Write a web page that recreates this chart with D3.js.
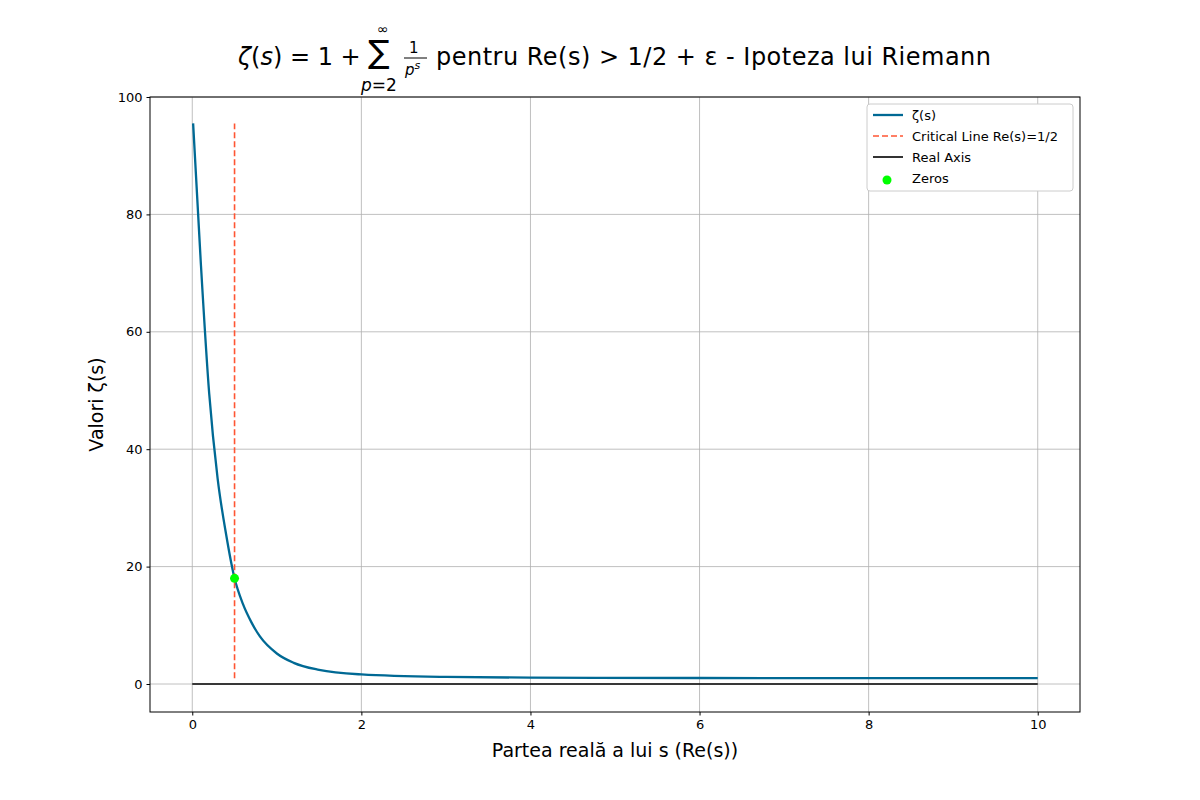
<!DOCTYPE html>
<html>
<head>
<script src="https://cdnjs.cloudflare.com/ajax/libs/d3/7.8.5/d3.min.js"></script>
<style>body{margin:0;background:#fff}text{font-family:"DejaVu Sans",sans-serif}</style>
</head>
<body>
<svg id="chart" width="1200" height="800"></svg>
<script>
// values
const sVals    = [0.01, 0.1, 0.2, 0.3, 0.4, 0.5, 0.6, 0.7, 0.8, 1.0, 1.2, 1.5, 2, 3, 4, 6, 8, 10];
const zetaVals = [95.5, 72, 49.5, 35, 25.5, 18, 13.6, 10.5, 8.1, 5.2, 3.6, 2.4, 1.63, 1.2, 1.08, 1.02, 1.004, 1.001];
const critX = 0.5, critY = [1, 95.5];
const axisX = [0, 10];
const zeros = [{s: 0.5, v: 18}];
const xTicks = [0, 2, 4, 6, 8, 10];
const yTicks = [0, 20, 40, 60, 80, 100];

const svg = d3.select('#chart');
const L = 150, R = 1080, T = 97, B = 712;
const x = d3.scaleLinear().domain([-0.5, 10.5]).range([L, R]);
const y = d3.scaleLinear().domain([-4.77, 100]).range([B, T]);

// grid
svg.append('g').selectAll('line').data(xTicks).enter().append('line')
  .attr('x1', d => x(d)).attr('x2', d => x(d)).attr('y1', T).attr('y2', B)
  .attr('stroke', '#b0b0b0').attr('stroke-width', 0.8);
svg.append('g').selectAll('line').data(yTicks).enter().append('line')
  .attr('y1', d => y(d)).attr('y2', d => y(d)).attr('x1', L).attr('x2', R)
  .attr('stroke', '#b0b0b0').attr('stroke-width', 0.8);

// axes
const gx = svg.append('g').attr('transform', `translate(0,${B})`)
  .call(d3.axisBottom(x).tickValues(xTicks).tickSize(3.5).tickPadding(4));
const gy = svg.append('g').attr('transform', `translate(${L},0)`)
  .call(d3.axisLeft(y).tickValues(yTicks).tickSize(3.5).tickPadding(4));
[gx, gy].forEach(g => {
  g.select('.domain').remove();
  g.selectAll('text').attr('font-size', 13).attr('fill', '#000').style('font-family', 'DejaVu Sans');
  g.selectAll('line').attr('stroke', '#000');
});
svg.append('rect').attr('x', L).attr('y', T).attr('width', R - L).attr('height', B - T)
  .attr('fill', 'none').attr('stroke', '#000').attr('stroke-width', 1);

// real axis
svg.append('line').attr('x1', x(axisX[0])).attr('x2', x(axisX[1])).attr('y1', y(0)).attr('y2', y(0))
  .attr('stroke', '#000').attr('stroke-width', 1.6);

// zeta curve
const line = d3.line().curve(d3.curveMonotoneX).x((d, i) => x(sVals[i])).y(d => y(d));
svg.append('path').attr('d', line(zetaVals)).attr('fill', 'none')
  .attr('stroke', '#006994').attr('stroke-width', 2.3);

// critical line
svg.append('line').attr('x1', x(critX)).attr('x2', x(critX)).attr('y1', y(critY[0])).attr('y2', y(critY[1]))
  .attr('stroke', '#ff5533').attr('stroke-width', 1.6).attr('stroke-dasharray', '6,3');

// zeros
svg.append('g').selectAll('circle').data(zeros).enter().append('circle')
  .attr('cx', d => x(d.s)).attr('cy', d => y(d.v)).attr('r', 4.5).attr('fill', '#00ff00');

// labels
svg.append('text').attr('x', (L + R) / 2).attr('y', 757).attr('text-anchor', 'middle')
  .attr('font-size', 19).text('Partea reală a lui s (Re(s))');
svg.append('text').attr('transform', `translate(103,${(T + B) / 2}) rotate(-90)`)
  .attr('text-anchor', 'middle').attr('font-size', 19).text('Valori ζ(s)');

// title
const tt = svg.append('g');
tt.append('text').attr('x', 238).attr('y', 65).attr('font-size', 24)
  .html('<tspan font-style="italic">ζ</tspan>(<tspan font-style="italic">s</tspan>) = 1 +');
tt.append('text').attr('x', 368).attr('y', 63).attr('font-size', 32).text('∑');
tt.append('text').attr('x', 377).attr('y', 34).attr('font-size', 14).text('∞');
tt.append('text').attr('x', 361).attr('y', 91).attr('font-size', 17)
  .html('<tspan font-style="italic">p</tspan>=2');
tt.append('text').attr('x', 409).attr('y', 53).attr('font-size', 15).text('1');
tt.append('line').attr('x1', 404).attr('x2', 427).attr('y1', 58).attr('y2', 58).attr('stroke', '#000');
tt.append('text').attr('x', 405).attr('y', 75).attr('font-size', 15)
  .html('<tspan font-style="italic">p</tspan><tspan font-style="italic" font-size="11" dy="-6">s</tspan>');
tt.append('text').attr('x', 436).attr('y', 65).attr('font-size', 24).attr('textLength', 555)
  .text('pentru Re(s) > 1/2 + ε - Ipoteza lui Riemann');

// legend
const lg = svg.append('g').attr('transform', 'translate(867,104)');
lg.append('rect').attr('width', 206).attr('height', 87).attr('rx', 3)
  .attr('fill', '#fff').attr('stroke', '#ccc');
const items = [
  {label: 'ζ(s)', type: 'line', color: '#006994', dash: null, w: 2.3},
  {label: 'Critical Line Re(s)=1/2', type: 'line', color: '#ff5533', dash: '6,3', w: 1.6},
  {label: 'Real Axis', type: 'line', color: '#000', dash: null, w: 1.6},
  {label: 'Zeros', type: 'dot', color: '#00ff00'}
];
items.forEach((it, i) => {
  const yy = 11 + i * 21;
  if (it.type === 'line') {
    lg.append('line').attr('x1', 6).attr('x2', 36).attr('y1', yy).attr('y2', yy)
      .attr('stroke', it.color).attr('stroke-width', it.w).attr('stroke-dasharray', it.dash);
  } else {
    lg.append('circle').attr('cx', 20).attr('cy', yy + 2).attr('r', 4.5).attr('fill', it.color);
  }
  lg.append('text').attr('x', 45).attr('y', yy + 5).attr('font-size', 13).text(it.label);
});
</script>
</body>
</html>
